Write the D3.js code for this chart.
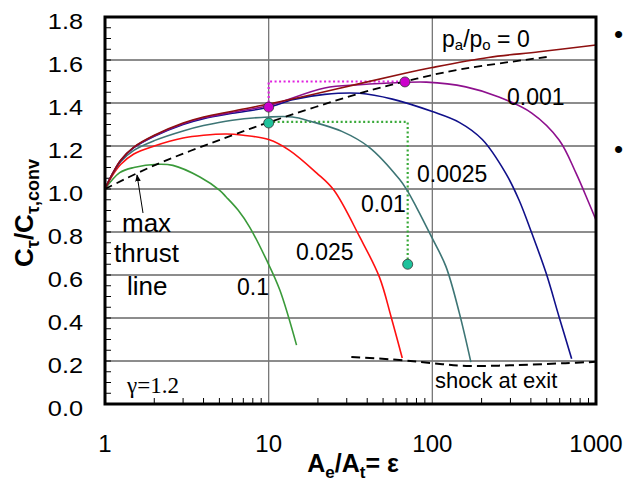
<!DOCTYPE html>
<html lang="en">
<head>
  <title>Thrust coefficient ratio</title>
  <meta charset="UTF-8">
  <style>
    body { margin: 0; background: #fff; font-family: "Liberation Sans", Arial, sans-serif; }
    svg text { font-family: "Liberation Sans", Arial, sans-serif; }
  </style>
  <script src="https://cdn.jsdelivr.net/npm/d3@7"></script>
</head>
<body>
<script>
  // curves: area ratio eps -> C_tau / C_tau,conv, one per ambient pressure ratio pa/po
  var x0 = [1, 1.1, 1.25, 1.5, 2, 3, 4, 6, 10, 18, 36, 65, 100, 220, 450, 1000];
  var y0 = [1.0, 1.065, 1.135, 1.195, 1.25, 1.307, 1.335, 1.362, 1.395, 1.437, 1.49, 1.535, 1.565, 1.612, 1.638, 1.67];

  var x001 = [1, 1.1, 1.25, 1.5, 2, 3, 4, 6, 10, 22, 36, 65, 92, 160, 255, 405, 595, 755, 905, 1000];
  var y001 = [1.0, 1.065, 1.135, 1.194, 1.248, 1.304, 1.331, 1.357, 1.388, 1.47, 1.485, 1.495, 1.497, 1.475, 1.428, 1.353, 1.228, 1.074, 0.935, 0.856];

  var x0025 = [1, 1.1, 1.25, 1.5, 2, 3, 4, 6, 10, 14, 22, 36, 57, 100, 146, 202, 280, 338, 405, 495, 595, 710];
  var y0025 = [1.0, 1.065, 1.133, 1.192, 1.245, 1.3, 1.327, 1.352, 1.38, 1.415, 1.44, 1.445, 1.418, 1.36, 1.31, 1.23, 1.075, 0.95, 0.795, 0.61, 0.405, 0.21];

  var x01 = [1, 1.1, 1.25, 1.5, 2, 3, 4, 6, 10, 14, 18, 28, 41, 63, 70, 80, 100, 121, 146, 172];
  var y01 = [1.0, 1.063, 1.128, 1.18, 1.225, 1.27, 1.295, 1.32, 1.335, 1.335, 1.315, 1.268, 1.195, 1.045, 0.995, 0.915, 0.77, 0.64, 0.425, 0.195];

  var x025 = [1, 1.1, 1.25, 1.5, 2, 3, 4, 5.5, 7, 10, 13.4, 19.6, 25, 36, 47.5, 56, 65.5];
  var y025 = [1.0, 1.058, 1.115, 1.163, 1.2, 1.237, 1.25, 1.256, 1.25, 1.23, 1.18, 1.075, 0.995, 0.777, 0.59, 0.405, 0.214];

  var x1 = [1, 1.23, 1.5, 2.1, 2.6, 3.8, 5, 5.5, 6.5, 7.65, 9.7, 11.7, 14.8];
  var y1 = [1.0, 1.076, 1.1, 1.115, 1.11, 1.056, 0.995, 0.963, 0.902, 0.823, 0.67, 0.53, 0.274];

  // dashed lines
  var xMax = [1, 2, 6, 10, 36, 68, 140, 500];
  var yMax = [1.0, 1.11, 1.25, 1.31, 1.445, 1.5, 1.553, 1.614];
  var xShock = [32, 63, 100, 161, 324, 650, 1000];
  var yShock = [0.219, 0.205, 0.19, 0.177, 0.181, 0.19, 0.196];

  // marked points and the dotted guides between them
  var xMagenta = [10, 10, 68];
  var yMagenta = [1.381, 1.5, 1.5];
  var xTeal = [10, 70.7, 70.7];
  var yTeal = [1.312, 1.312, 0.65];
  var dots = [
    { x: 10, y: 1.381, c: "#cc00cc" },
    { x: 68, y: 1.498, c: "#cc00cc" },
    { x: 10, y: 1.307, c: "#1fc29c" },
    { x: 70.7, y: 0.65, c: "#1fc29c" }
  ];

  var xTicks = [1, 10, 100, 1000];
  var yTicks = [0, 0.2, 0.4, 0.6, 0.8, 1.0, 1.2, 1.4, 1.6, 1.8];

  var W = 623, H = 486;
  var pL = 105, pR = 596, pT = 17, pB = 404;

  var svg = d3.select("body").append("svg").attr("width", W).attr("height", H);

  var x = d3.scaleLog().domain([1, 1000]).range([pL, pR]);
  var y = d3.scaleLinear().domain([0, 1.8]).range([pB, pT]);

  function zip(xs, ys) { return xs.map(function(v, i) { return [v, ys[i]]; }); }

  // grid
  svg.append("g").selectAll("line").data(yTicks.slice(1, -1)).enter().append("line")
    .attr("x1", pL).attr("x2", pR)
    .attr("y1", function(d) { return y(d); }).attr("y2", function(d) { return y(d); })
    .attr("stroke", "#1a1a1a").attr("stroke-width", 1);
  svg.append("g").selectAll("line").data([10, 100]).enter().append("line")
    .attr("y1", pT).attr("y2", pB)
    .attr("x1", function(d) { return x(d); }).attr("x2", function(d) { return x(d); })
    .attr("stroke", "#777").attr("stroke-width", 1.3);

  // minor ticks inside the frame
  var yMinor = d3.range(0, 36).map(function(i) { return i * 0.05; });
  svg.append("g").selectAll("line").data(yMinor).enter().append("line")
    .attr("x1", pL).attr("x2", pL + 6)
    .attr("y1", function(d) { return y(d); }).attr("y2", function(d) { return y(d); })
    .attr("stroke", "#000").attr("stroke-width", 1);
  var xMinor = [];
  [1, 10, 100].forEach(function(p) { for (var k = 2; k <= 9; k++) xMinor.push(k * p); });
  svg.append("g").selectAll("line").data(xMinor).enter().append("line")
    .attr("y1", pB).attr("y2", pB - 6)
    .attr("x1", function(d) { return x(d); }).attr("x2", function(d) { return x(d); })
    .attr("stroke", "#000").attr("stroke-width", 1);

  var line = d3.line()
    .x(function(d) { return x(d[0]); })
    .y(function(d) { return y(d[1]); })
    .curve(d3.curveCatmullRom.alpha(0.5));
  var straight = d3.line()
    .x(function(d) { return x(d[0]); })
    .y(function(d) { return y(d[1]); });

  // dotted guides
  svg.append("path").attr("d", straight(zip(xMagenta, yMagenta)))
    .attr("fill", "none").attr("stroke", "#e022e0").attr("stroke-width", 2.2).attr("stroke-dasharray", "2,2.5");
  svg.append("path").attr("d", straight(zip(xTeal, yTeal)))
    .attr("fill", "none").attr("stroke", "#3aaa3a").attr("stroke-width", 2.2).attr("stroke-dasharray", "2,2.5");

  var curves = [
    { xs: x1, ys: y1, c: "#3a9a3a" },
    { xs: x025, ys: y025, c: "#ff1010" },
    { xs: x01, ys: y01, c: "#3d7575" },
    { xs: x0025, ys: y0025, c: "#10108a" },
    { xs: x001, ys: y001, c: "#8e108e" },
    { xs: x0, ys: y0, c: "#8e1010" }
  ];
  svg.append("g").selectAll("path").data(curves).enter().append("path")
    .attr("d", function(d) { return line(zip(d.xs, d.ys)); })
    .attr("fill", "none").attr("stroke", function(d) { return d.c; }).attr("stroke-width", 1.6);

  svg.append("path").attr("d", line(zip(xMax, yMax)))
    .attr("fill", "none").attr("stroke", "#000").attr("stroke-width", 1.8).attr("stroke-dasharray", "8,5");
  svg.append("path").attr("d", line(zip(xShock, yShock)))
    .attr("fill", "none").attr("stroke", "#000").attr("stroke-width", 2).attr("stroke-dasharray", "9,5");

  svg.append("g").selectAll("circle").data(dots).enter().append("circle")
    .attr("cx", function(d) { return x(d.x); }).attr("cy", function(d) { return y(d.y); })
    .attr("r", 5).attr("fill", function(d) { return d.c; })
    .attr("stroke", "#333").attr("stroke-width", 0.8);

  // frame
  svg.append("rect").attr("x", pL).attr("y", pT)
    .attr("width", pR - pL).attr("height", pB - pT)
    .attr("fill", "none").attr("stroke", "#000").attr("stroke-width", 3);

  // tick labels
  svg.append("g").selectAll("text").data(yTicks).enter().append("text")
    .attr("transform", function(d) { return "translate(83," + (y(d) + 11.5) + ") scale(1.15,1)"; })
    .attr("text-anchor", "end").attr("font-size", 22)
    .text(function(d) { return d.toFixed(1); });
  svg.append("g").selectAll("text").data(xTicks).enter().append("text")
    .attr("x", function(d) { return x(d); }).attr("y", 452)
    .attr("text-anchor", "middle").attr("font-size", 24)
    .text(function(d) { return d; });

  // axis titles
  var yt = svg.append("text").attr("transform", "translate(33,213) rotate(-90)")
    .attr("text-anchor", "middle").attr("font-size", 26).attr("font-weight", "bold");
  yt.append("tspan").text("C");
  yt.append("tspan").attr("font-size", 18).attr("dy", 6).text("τ");
  yt.append("tspan").attr("dy", -6).text("/C");
  yt.append("tspan").attr("font-size", 18).attr("dy", 6).text("τ,conv");

  var xt = svg.append("text").attr("x", 353).attr("y", 472)
    .attr("text-anchor", "middle").attr("font-size", 25).attr("font-weight", "bold");
  xt.append("tspan").text("A");
  xt.append("tspan").attr("font-size", 17).attr("dy", 6).text("e");
  xt.append("tspan").attr("dy", -6).text("/A");
  xt.append("tspan").attr("font-size", 17).attr("dy", 6).text("t");
  xt.append("tspan").attr("dy", -6).text("= ε");

  // curve labels
  var pl = svg.append("text").attr("x", 442).attr("y", 47).attr("font-size", 23);
  pl.append("tspan").text("p");
  pl.append("tspan").attr("font-size", 15).attr("dy", 3).text("a");
  pl.append("tspan").attr("dy", -3).text("/p");
  pl.append("tspan").attr("font-size", 15).attr("dy", 3).text("o");
  pl.append("tspan").attr("dy", -3).text(" = 0");

  var labels = [
    { t: "0.001", x: 507, y: 105 },
    { t: "0.0025", x: 417, y: 182 },
    { t: "0.01", x: 361, y: 212 },
    { t: "0.025", x: 296, y: 260 },
    { t: "0.1", x: 237, y: 295 }
  ];
  svg.append("g").selectAll("text").data(labels).enter().append("text")
    .attr("x", function(d) { return d.x; }).attr("y", function(d) { return d.y; })
    .attr("font-size", 23).text(function(d) { return d.t; });

  var mt = [
    { t: "max", x: 122, y: 232 },
    { t: "thrust", x: 114, y: 262 },
    { t: "line", x: 127, y: 295 }
  ];
  svg.append("g").selectAll("text").data(mt).enter().append("text")
    .attr("x", function(d) { return d.x; }).attr("y", function(d) { return d.y; })
    .attr("font-size", 26).text(function(d) { return d.t; });

  // arrow to the max thrust line
  svg.append("defs").append("marker").attr("id", "ah")
    .attr("viewBox", "0 0 10 10").attr("refX", 9).attr("refY", 5)
    .attr("markerWidth", 7).attr("markerHeight", 7).attr("orient", "auto")
    .append("path").attr("d", "M0,1 L10,5 L0,9 Z").attr("fill", "#000");
  svg.append("line").attr("x1", 143).attr("y1", 213).attr("x2", 137).attr("y2", 175)
    .attr("stroke", "#000").attr("stroke-width", 1).attr("marker-end", "url(#ah)");

  svg.append("text").attr("x", 127).attr("y", 393)
    .style("font-family", "'Liberation Serif', 'Times New Roman', serif")
    .attr("font-size", 23).text("γ=1.2");

  svg.append("text").attr("x", 435).attr("y", 388).attr("font-size", 22).text("shock at exit");

  // bullet marks of the slide text beside the chart
  svg.append("text").attr("x", 614).attr("y", 43).attr("font-size", 26).text("•");
  svg.append("text").attr("x", 614).attr("y", 158).attr("font-size", 26).text("•");
</script>
</body>
</html>
